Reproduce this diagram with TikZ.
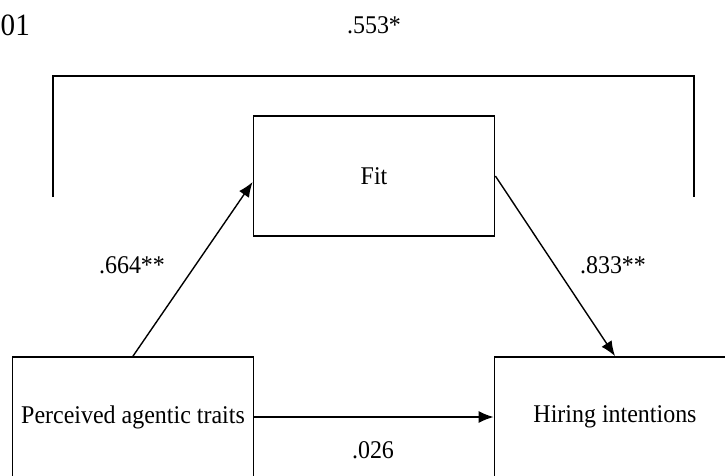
\documentclass[tikz,border=0pt]{standalone}
\usepackage{fontspec}
\setmainfont{Liberation Serif}[FakeStretch=0.94]
\usetikzlibrary{arrows.meta}
\begin{document}
\begin{tikzpicture}[x=1pt,y=-1pt,
  box/.style={draw,line width=1.8pt,minimum width=241pt,minimum height=120pt,inner sep=0pt,font=\fontsize{25.5}{28}\selectfont},
  lbl/.style={font=\fontsize{25.5}{28}\selectfont,inner sep=0pt},
  arr/.style={line width=1.4pt,-{Latex[length=15pt,width=12pt]}}]
\useasboundingbox (0,0) rectangle (725,475);
\clip (0,0) rectangle (725,475);
\node[box] (fit) at (374,176) {Fit};
\node[box] (pat) at (133,417) {Perceived agentic traits};
\node[box] (hi) at (615,417) {Hiring intentions};
\coordinate (b1) at (53,197);
\coordinate (b2) at (53,76);
\coordinate (b3) at (694,76);
\coordinate (b4) at (694,197);
\draw[line width=1.6pt] (b1) -- (b2) -- (b3) -- (b4);
\draw[arr] (pat.north) -- ([yshift=-6pt]fit.west);
\draw[arr] (fit.east) -- (hi.north);
\draw[arr] (pat.east) -- (hi.west);
\node[lbl] (l1) at (132,265) {.664**};
\node[lbl] (l2) at (613,265) {.833**};
\node[lbl] (l3) at (373,450) {.026};
\node[lbl] (l4) at (374,25) {.553*};
\node[lbl,anchor=west,font=\fontsize{31}{34}\selectfont] (l5) at (0.5,25) {01};
\end{tikzpicture}
\end{document}
